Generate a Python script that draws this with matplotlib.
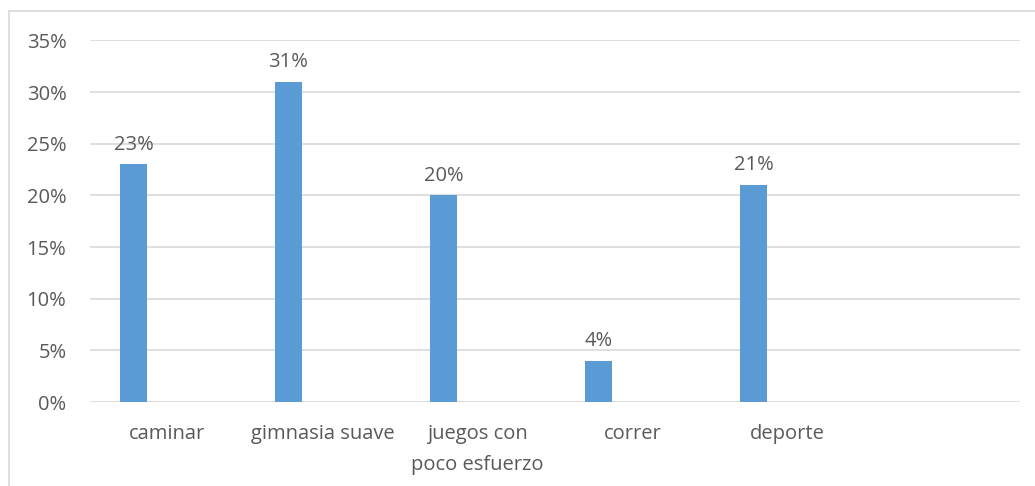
import matplotlib.pyplot as plt
import matplotlib.patches as patches
import numpy as np

# data
categories = ['caminar', 'gimnasia suave', 'juegos con\npoco esfuerzo', 'correr', 'deporte', '']
values = [0.23, 0.31, 0.20, 0.04, 0.21, None]
yticks = [0, 0.05, 0.10, 0.15, 0.20, 0.25, 0.30, 0.35]

plt.rcParams['font.family'] = ['Open Sans', 'DejaVu Sans']
txtcol = '#595959'
fs = 14.5

fig = plt.figure(figsize=(10.35, 4.86), dpi=100)
ax = fig.add_axes([90 / 1035, 1 - 402 / 486, 930 / 1035, (402 - 40.5) / 486])

x = np.arange(len(categories))
shown = [i for i, v in enumerate(values) if v is not None]
xs = x[shown] - 0.22
vs = [values[i] for i in shown]
ax.bar(xs, vs, width=0.175, color='#5b9bd5', zorder=3)

for xi, v in zip(xs, vs):
    ax.annotate(f'{v * 100:.0f}%', (xi, v), xytext=(0, 7), textcoords='offset points',
                ha='center', va='bottom', fontsize=fs, color=txtcol)

ax.set_xlim(-0.5, len(categories) - 0.5)
ax.set_ylim(0, 0.35)
ax.set_yticks(yticks)
ax.set_yticklabels([f'{t * 100:.0f}%' for t in yticks])
ax.set_xticks(x)
ax.set_xticklabels(categories, linespacing=1.75)
ax.yaxis.grid(True, color='#d9d9d9', linewidth=1.2, zorder=0)
ax.tick_params(axis='both', length=0, labelsize=fs, labelcolor=txtcol)
ax.tick_params(axis='y', pad=17)
ax.tick_params(axis='x', pad=16)
for s in ax.spines.values():
    s.set_visible(False)

# outer chart border
fig.patches.append(patches.Rectangle((9 / 1035, -0.1), 1.2, 1 - 11 / 486 + 0.1,
                                     transform=fig.transFigure, fill=False,
                                     edgecolor='#d9d9d9', linewidth=1.2))

fig.savefig('out.png', dpi=100)
